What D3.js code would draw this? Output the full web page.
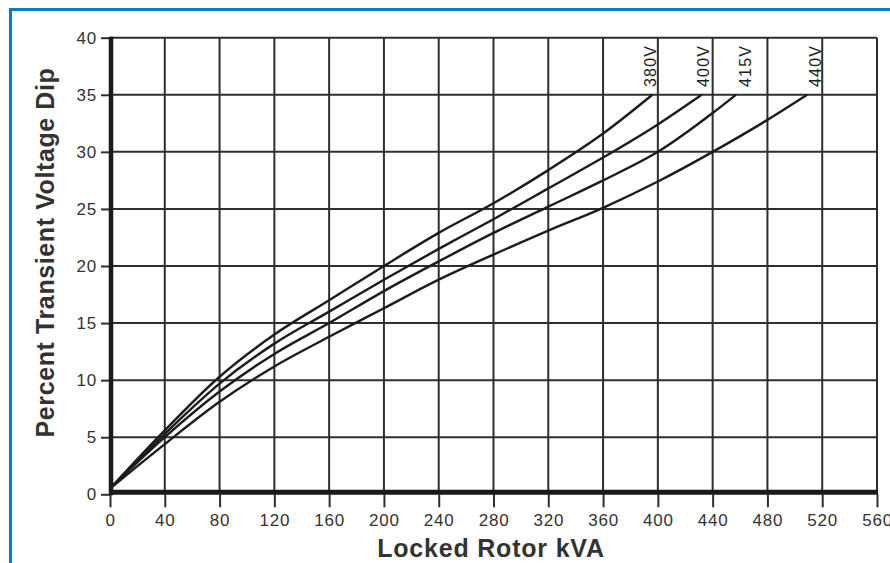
<!DOCTYPE html>
<html>
<head>
<meta charset="utf-8">
<script src="https://cdn.jsdelivr.net/npm/d3@7"></script>
<style>
  html, body { margin: 0; padding: 0; background: #fff; }
  svg { display: block; }
  text { font-family: Arial, "Liberation Sans", Helvetica, sans-serif; }
</style>
</head>
<body>
<svg id="chart" width="890" height="563"></svg>
<script>
// ---- data ----
const xTicks = [0, 40, 80, 120, 160, 200, 240, 280, 320, 360, 400, 440, 480, 520, 560];
const yTicks = [0, 5, 10, 15, 20, 25, 30, 35, 40];
const seriesNames = ["380V", "400V", "415V", "440V"];
const kva380 = [0, 40, 80, 120, 160, 200, 240, 280, 320, 360, 396];
const dip380 = [0.5, 5.6, 10.3, 14.0, 17.0, 20.0, 22.9, 25.5, 28.4, 31.6, 35];
const kva400 = [0, 40, 80, 120, 160, 200, 240, 280, 320, 360, 400, 432];
const dip400 = [0.5, 5.3, 9.7, 13.2, 16.0, 18.8, 21.5, 24.1, 26.8, 29.5, 32.4, 35];
const kva415 = [0, 40, 80, 120, 160, 200, 240, 280, 320, 360, 400, 440, 457];
const dip415 = [0.5, 5.0, 9.0, 12.3, 15.0, 17.8, 20.4, 22.9, 25.2, 27.5, 30.0, 33.4, 35];
const kva440 = [0, 40, 80, 120, 160, 200, 240, 280, 320, 360, 400, 440, 480, 509];
const dip440 = [0.5, 4.4, 8.1, 11.2, 13.8, 16.3, 18.8, 21.0, 23.1, 25.1, 27.4, 30.0, 32.8, 35];
const labelKva = [399, 437, 468, 519];
const xTitle = "Locked Rotor kVA";
const yTitle = "Percent Transient Voltage Dip";

// ---- layout ----
const svg = d3.select("#chart");
const x = d3.scaleLinear().domain([0, 560]).range([110, 877]);
const y = d3.scaleLinear().domain([0, 40]).range([494.3, 37.7]);

// blue frame (top and left edges visible)
svg.append("rect").attr("x", 10.5).attr("y", 9.5).attr("width", 900).attr("height", 600)
  .attr("fill", "none").attr("stroke", "#0b7bc0").attr("stroke-width", 3);

const gridColor = "#2e2e2e";
// vertical grid
svg.append("g").selectAll("line").data(xTicks.filter(d => d > 0)).join("line")
  .attr("x1", d => x(d)).attr("x2", d => x(d))
  .attr("y1", y(40)).attr("y2", y(0))
  .attr("stroke", gridColor).attr("stroke-width", 2);
// horizontal grid
svg.append("g").selectAll("line").data(yTicks.filter(d => d > 0)).join("line")
  .attr("x1", x(0)).attr("x2", x(560))
  .attr("y1", d => y(d)).attr("y2", d => y(d))
  .attr("stroke", gridColor).attr("stroke-width", 2);

// y axis (ticks + labels)
const yAxis = d3.axisLeft(y).tickValues(yTicks).tickSize(9).tickPadding(4).tickFormat(d3.format("d"));
const gy = svg.append("g").attr("transform", `translate(${x(0)},0)`).call(yAxis);
gy.select(".domain").remove();
gy.selectAll(".tick line").attr("stroke", gridColor).attr("stroke-width", 2);
gy.selectAll(".tick text").attr("font-size", 17).attr("fill", "#333")
  .attr("letter-spacing", 0.8).attr("x", -13);

// x axis
const xAxis = d3.axisBottom(x).tickValues(xTicks).tickSize(13).tickPadding(7).tickFormat(d3.format("d"));
const gx = svg.append("g").attr("transform", `translate(0,${y(0)})`).call(xAxis);
gx.select(".domain").remove();
gx.selectAll(".tick line").attr("stroke", gridColor).attr("stroke-width", 2);
gx.selectAll(".tick text").attr("font-size", 17).attr("fill", "#333").attr("letter-spacing", 0.8);

// thick left and bottom axis lines
svg.append("line").attr("x1", x(0) + 1).attr("x2", x(0) + 1).attr("y1", y(40) - 1).attr("y2", y(0) + 1)
  .attr("stroke", "#1a1a1a").attr("stroke-width", 4.5);
svg.append("line").attr("x1", x(0) - 1).attr("x2", x(560) + 1).attr("y1", y(0) - 2).attr("y2", y(0) - 2)
  .attr("stroke", "#1a1a1a").attr("stroke-width", 5);

// curves
const allKva = [kva380, kva400, kva415, kva440];
const allDip = [dip380, dip400, dip415, dip440];
const line = d3.line().x(d => x(d[0])).y(d => y(d[1])).curve(d3.curveMonotoneX);
allKva.forEach((ks, i) => {
  const pts = ks.map((k, j) => [k, allDip[i][j]]);
  svg.append("path").attr("d", line(pts)).attr("fill", "none")
    .attr("stroke", "#1c1c1c").attr("stroke-width", 2.4).attr("stroke-linejoin", "round");
});

// voltage labels (rotated)
seriesNames.forEach((name, i) => {
  const lx = x(labelKva[i]);
  svg.append("text").attr("transform", `translate(${lx},87) rotate(-90)`)
    .attr("font-size", 16).attr("letter-spacing", 1.2).attr("fill", "#222")
    .text(name);
});

// axis titles
svg.append("text").attr("x", 491).attr("y", 556.5).attr("text-anchor", "middle")
  .attr("font-size", 25).attr("font-weight", "bold").attr("letter-spacing", 0.8).attr("fill", "#333")
  .text(xTitle);
svg.append("text").attr("transform", "translate(53.5,252.5) rotate(-90)").attr("text-anchor", "middle")
  .attr("font-size", 25).attr("font-weight", "bold").attr("letter-spacing", 0.6).attr("fill", "#333")
  .text(yTitle);
</script>
</body>
</html>
